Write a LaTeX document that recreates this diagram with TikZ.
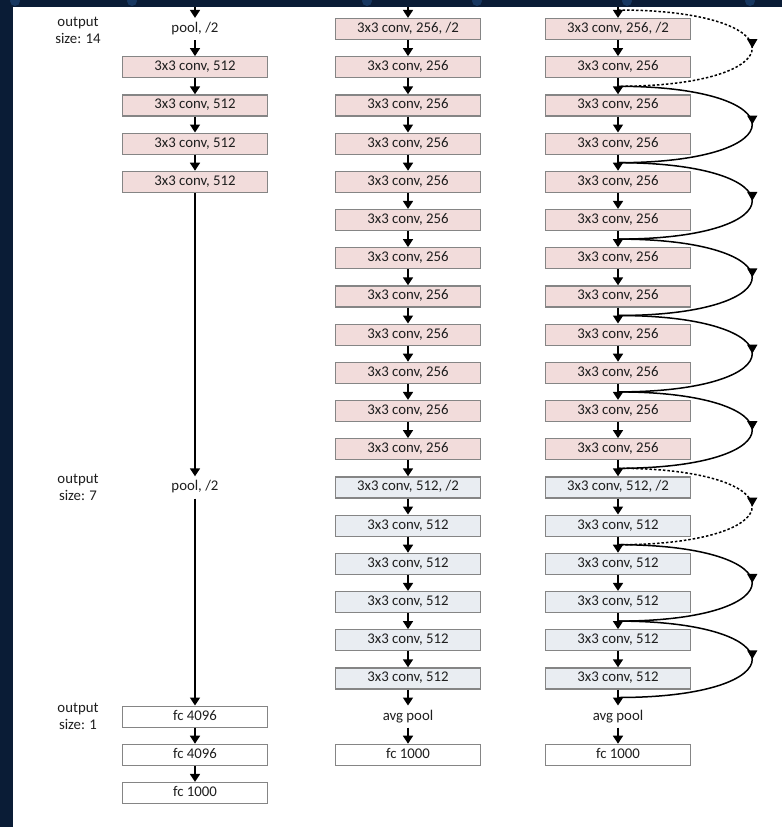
\documentclass[tikz,border=0pt]{standalone}
\usepackage{fontspec}
\setmainfont{Carlito}
\usetikzlibrary{arrows.meta, positioning, calc, decorations.markings}

\definecolor{navybg}{HTML}{0A1C36}
\definecolor{navydot}{HTML}{173760}
\definecolor{convpink}{HTML}{F2DCDB}
\definecolor{convblue}{HTML}{E9EDF2}
\definecolor{boxline}{HTML}{858585}
\definecolor{labeltext}{HTML}{1E1E1E}

\begin{document}
\begin{tikzpicture}[
        x=1pt, y=1pt,
        node distance=16pt,
        every node/.style={font=\fontsize{14.8}{17}\selectfont, text=labeltext},
        layer/.style={
            rectangle,
            draw=boxline,
            line width=1.2pt,
            minimum width=145pt,
            minimum height=21pt,
            inner sep=2pt,
            text height=10pt,
            text depth=3pt
        },
        pinkconv/.style={layer, fill=convpink},
        blueconv/.style={layer, fill=convblue},
        fcbox/.style={layer, fill=white},
        poolop/.style={layer, draw=none},
        sizelabel/.style={align=center},
        arrow/.style={-{Triangle[width=10pt,length=8pt]}, line width=1.6pt, draw=black},
        shortcut/.style={
            line width=1.5pt,
            postaction={decorate},
            decoration={markings, mark=at position 0.5 with {\arrow{Triangle[width=10pt,length=9pt]}}}
        },
        shortcutdash/.style={shortcut, dash pattern=on 2.5pt off 2pt}
    ]

    \useasboundingbox (0,0) rectangle (782,-827);

    % background and page
    \fill[navybg] (0,0) rectangle (782,-827);
    \foreach \dx in {15,132,367,477,627,750}
        \fill[navydot] (\dx,-1) circle (5);
    \fill[white] (13,-7) rectangle (782,-827);
    \coordinate (edge) at (0,-7);

    % plain and residual columns
    \foreach \c/\cx in {p/408, r/618} {
        \node (\c1) [pinkconv] at (\cx,-29) {3x3 conv, 256, /2};
        \foreach \i [remember=\i as \prev (initially 1)] in {2,...,12}
            \node (\c\i) [pinkconv, below=of \c\prev] {3x3 conv, 256};
        \node (\c13) [blueconv, below=of \c12] {3x3 conv, 512, /2};
        \foreach \i [remember=\i as \prev (initially 13)] in {14,...,18}
            \node (\c\i) [blueconv, below=of \c\prev] {3x3 conv, 512};
        \node (\c19) [poolop, below=of \c18] {avg pool};
        \node (\c20) [fcbox, below=of \c19] {fc 1000};

        \coordinate (\c0) at (\c1 |- edge);
        \foreach \i [remember=\i as \prev (initially 0)] in {1,...,20}
            \draw [arrow] (\c\prev) -- (\c\i);
    }

    % vgg column
    \node (vpool1) [poolop] at (195,-29) {pool, /2};
    \node (v1) [pinkconv, below=of vpool1] {3x3 conv, 512};
    \node (v2) [pinkconv, below=of v1] {3x3 conv, 512};
    \node (v3) [pinkconv, below=of v2] {3x3 conv, 512};
    \node (v4) [pinkconv, below=of v3] {3x3 conv, 512};
    \node (vpool2) [poolop] at (v4 |- p13) {pool, /2};
    \node (vfc1) [fcbox] at (v4 |- p19) {fc 4096};
    \node (vfc2) [fcbox, below=of vfc1] {fc 4096};
    \node (vfc3) [fcbox, below=of vfc2] {fc 1000};

    \coordinate (vin) at (vpool1 |- edge);
    \draw [arrow] (vin) -- (vpool1);
    \draw [arrow] (vpool1) -- (v1);
    \draw [arrow] (v1) -- (v2);
    \draw [arrow] (v2) -- (v3);
    \draw [arrow] (v3) -- (v4);
    \draw [arrow] (v4) -- (vpool2);
    \draw [arrow] (vpool2) -- (vfc1);
    \draw [arrow] (vfc1) -- (vfc2);
    \draw [arrow] (vfc2) -- (vfc3);

    % output sizes
    \node (size14) [sizelabel] at (78,-30) {output\\size: 14};
    \node (size7) [sizelabel] at (size14 |- p13) {output\\size: 7};
    \node (size1) [sizelabel] at (size14 |- p19) {output\\size: 1};

    % shortcuts
    \coordinate (j0) at (618,-10);
    \foreach \i [evaluate=\i as \next using int(\i+1)] in {2,4,...,18}
        \coordinate (j\i) at ($(r\i.south)!0.5!(r\next.north)$);

    \draw [shortcutdash] (j0) .. controls +(179,0) and +(179,0) .. (j2);
    \draw [shortcutdash] (j12) .. controls +(179,0) and +(179,0) .. (j14);
    \foreach \a/\b in {2/4, 4/6, 6/8, 8/10, 10/12, 14/16, 16/18}
        \draw [shortcut] (j\a) .. controls +(179,0) and +(179,0) .. (j\b);

\end{tikzpicture}
\end{document}
